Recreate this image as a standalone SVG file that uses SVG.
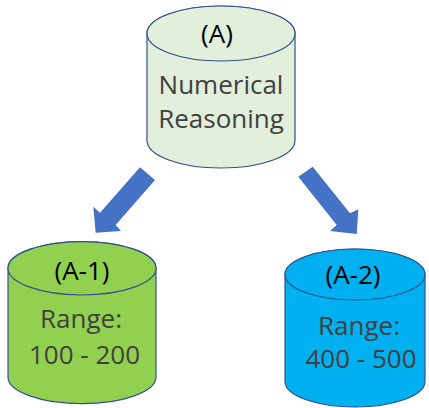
<svg xmlns="http://www.w3.org/2000/svg" width="429" height="408" viewBox="0 0 429 408">
  <style>
    .cyl { stroke: #2F528F; stroke-width: 1.2; }
    .lbl { font-family: "Open Sans", "Liberation Sans", sans-serif; font-size: 26px; text-anchor: middle; }
    .head { fill: #000000; }
    .body { fill: #404040; }
    .arrow { fill: #4472C4; }
  </style>

  <!-- connectors: block arrows from the parent store to the two children -->
  <g id="connectors">
    <polygon class="arrow" points="140,167.3 155,180 115.7,225 121,231 95.7,232.7 93.3,206.7 100,212.7"/>
    <polygon class="arrow" points="312.7,166.7 350,213.3 358.3,209.3 356.7,234 330,231 336.7,225 298.3,176.7"/>
  </g>

  <!-- parent store -->
  <g id="node-A">
    <path class="cyl" fill="#E2EFDA" d="M147,33.5 V140.5 A74,27.5 0 0 0 295,140.5 V33.5 A74,27.5 0 0 0 147,33.5 Z"/>
    <ellipse class="cyl" fill="#E2EFDA" cx="221" cy="33.5" rx="74" ry="27.5"/>
    <text class="lbl head" x="217" y="43">(A)</text>
    <text class="lbl body" x="221" y="94">Numerical</text>
    <text class="lbl body" x="221" y="128">Reasoning</text>
  </g>

  <!-- child store A-1 -->
  <g id="node-A1">
    <path class="cyl" fill="#92D050" d="M8,268.3 V377 A74,26.7 0 0 0 156,377 V268.3 A74,26.7 0 0 0 8,268.3 Z"/>
    <ellipse class="cyl" fill="#92D050" cx="82" cy="268.3" rx="74" ry="26.7"/>
    <text class="lbl head" x="82" y="280">(A-1)</text>
    <text class="lbl body" x="81" y="328">Range:</text>
    <text class="lbl body" x="84.5" y="364">100 - 200</text>
  </g>

  <!-- child store A-2 -->
  <g id="node-A2">
    <path class="cyl" fill="#00B0F0" d="M285,274.5 V381.5 A70,25.5 0 0 0 425,381.5 V274.5 A70,25.5 0 0 0 285,274.5 Z"/>
    <ellipse class="cyl" fill="#00B0F0" cx="355" cy="274.5" rx="70" ry="25.5"/>
    <text class="lbl head" x="353" y="284">(A-2)</text>
    <text class="lbl body" x="359" y="335">Range:</text>
    <text class="lbl body" x="361" y="368">400 - 500</text>
  </g>
</svg>
